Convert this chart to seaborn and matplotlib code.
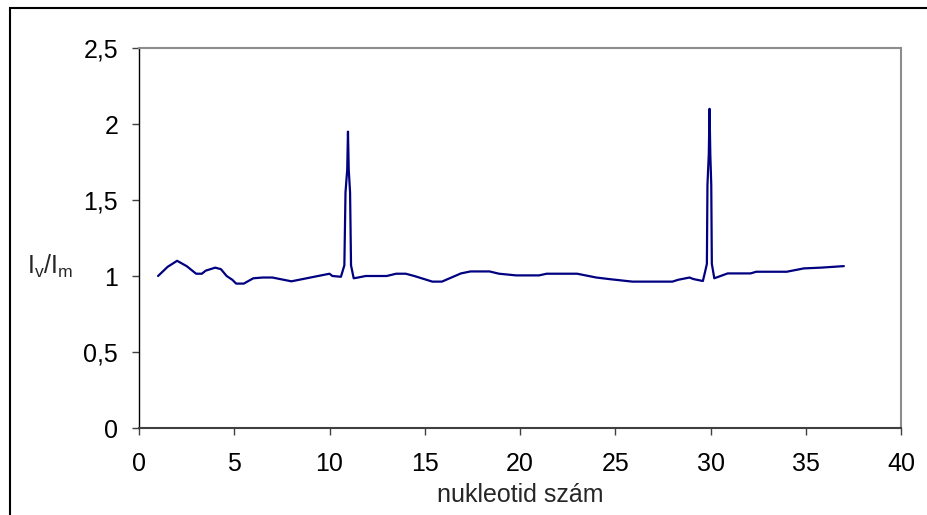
import matplotlib
matplotlib.use("Agg")
import matplotlib.pyplot as plt
import matplotlib.patches as mpatches
from matplotlib.ticker import FuncFormatter
import seaborn as sns
import pandas as pd

# nucleotide position vs. Iv/Im ratio
nukleotid = [1, 1.5, 2, 2.5, 3, 3.3, 3.5, 4, 4.3, 4.6, 4.9, 5.1, 5.5, 6, 6.5, 7, 8, 9, 10,
             10.15, 10.6, 10.78, 10.84, 10.93, 10.97, 11.01, 11.08, 11.13, 11.27, 11.5, 11.9,
             13.0, 13.5, 14.0, 14.45, 15.4, 15.9, 16.9, 17.4, 18.4, 18.9, 19.8, 21.0, 21.4,
             23.0, 24.0, 24.8, 25.9, 28.0, 28.3, 28.9, 29.1, 29.6, 29.72, 29.81, 29.84, 29.91,
             29.95, 29.99, 30.04, 30.07, 30.2, 30.9, 32.1, 32.4, 34.0, 34.9, 35.8, 37.0]
arany = [1.0, 1.06, 1.1, 1.065, 1.015, 1.015, 1.035, 1.055, 1.045, 1.0, 0.975, 0.95, 0.95,
         0.985, 0.99, 0.99, 0.965, 0.99, 1.015, 1.0, 0.995, 1.07, 1.55, 1.7, 1.95, 1.7, 1.55,
         1.07, 0.985, 0.99, 1.0, 1.0, 1.015, 1.015, 1.0, 0.963, 0.963, 1.017, 1.03, 1.03,
         1.015, 1.004, 1.004, 1.015, 1.015, 0.99, 0.978, 0.963, 0.963, 0.975, 0.99, 0.98,
         0.967, 1.03, 1.08, 1.6, 1.8, 2.1, 1.8, 1.6, 1.08, 0.985, 1.017, 1.017, 1.028, 1.028,
         1.05, 1.055, 1.065]

x_ticks = [0, 5, 10, 15, 20, 25, 30, 35, 40]
y_ticks = [0, 0.5, 1, 1.5, 2, 2.5]

df = pd.DataFrame({"nukleotid": nukleotid, "arany": arany})

sns.set_style("white")
plt.rcParams["font.family"] = ["Liberation Sans", "DejaVu Sans"]

fig = plt.figure(figsize=(9.27, 5.15), dpi=100)
ax = fig.add_axes([139 / 927, 1 - 428 / 515, 762 / 927, 380 / 515])

sns.lineplot(data=df, x="nukleotid", y="arany", sort=False, estimator=None,
             color="#000080", linewidth=1.6, ax=ax)

ax.set_xlim(0, 40)
ax.set_ylim(0, 2.5)
ax.set_xticks(x_ticks)
ax.set_yticks(y_ticks)
ax.yaxis.set_major_formatter(FuncFormatter(lambda v, p: f"{v:g}".replace(".", ",")))

for side in ["top", "right"]:
    ax.spines[side].set_color("#8c8c8c")
    ax.spines[side].set_linewidth(1.5)
ax.spines["left"].set_color("#000000")
ax.spines["left"].set_linewidth(1.0)
ax.spines["bottom"].set_color("#404040")
ax.spines["bottom"].set_linewidth(1.5)

ax.tick_params(axis="both", direction="out", length=5, width=1, colors="#404040",
               labelcolor="black", labelsize=18)
ax.tick_params(axis="y", pad=10)
ax.tick_params(axis="x", pad=12)
ax.tick_params(left=True, bottom=True)

ax.set_xlabel("nukleotid szám", fontsize=18, labelpad=5)
ax.set_ylabel(r"$\mathregular{I_v/I_m}$", fontsize=18, rotation=0, va="center", ha="center")
ax.yaxis.set_label_coords(-0.117, 0.425)

# outer chart frame (left and top edges visible)
fig.add_artist(mpatches.Rectangle((9.5 / 927, -0.2), 1.2, 1.2 - 7.5 / 515,
                                  transform=fig.transFigure, fill=False,
                                  edgecolor="black", linewidth=1.5))

fig.savefig("out.png", dpi=100)
